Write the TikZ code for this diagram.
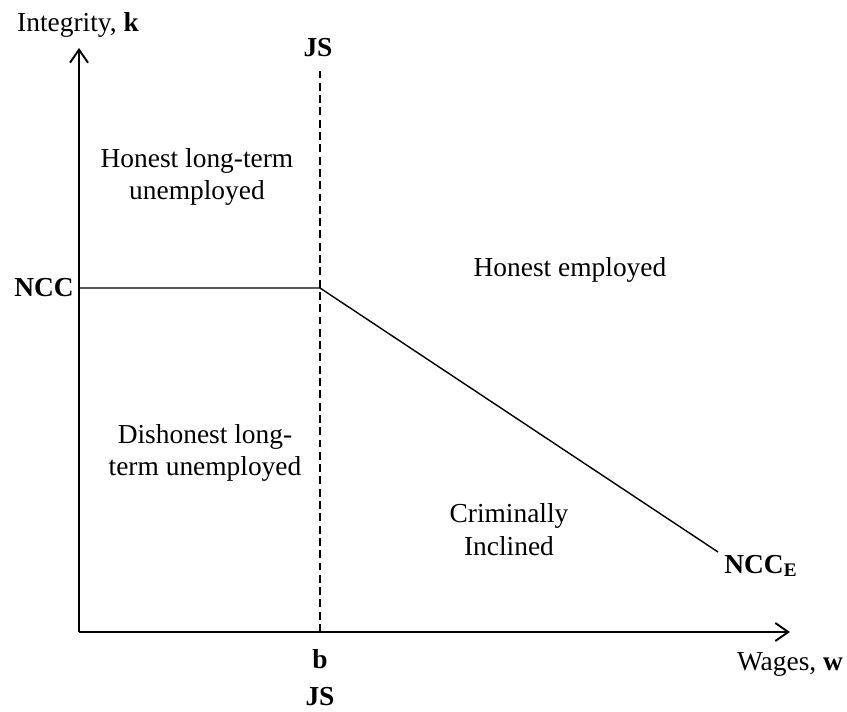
\documentclass[tikz,border=0pt]{standalone}
\usepackage{fontspec}
\setmainfont{Liberation Serif}
\usetikzlibrary{arrows.meta}
\newcommand{\FL}{\fontsize{15.6}{18.7}\selectfont}

\begin{document}
\begin{tikzpicture}
\tikzstyle{texto}=[draw=none,fill=none,black,font=\FL,align=center,inner sep=0pt]
\tikzstyle{axis}=[black,line width=1.1pt,-{Straight Barb[length=2.6mm,width=3.6mm]}]
\tikzstyle{line}=[black,line width=0.8pt]
\tikzstyle{jsline}=[black,line width=0.8pt,dash pattern=on 4.5pt off 2.5pt]

\useasboundingbox (-1.58,-1.58) rectangle (15.36,12.64);

\coordinate (O) at (0,0);
\coordinate (ktop) at (0,11.68);
\coordinate (wend) at (14.22,0);
\coordinate (jstop) at (4.82,11.24);
\coordinate (jsbot) at (4.82,0);
\coordinate (ncc) at (0,6.88);
\coordinate (kink) at (4.82,6.88);
\coordinate (nccE) at (12.78,1.6);

\draw[axis] (O) -- (ktop);
\draw[axis] (O) -- (wend);
\draw[jsline] (jsbot) -- (jstop);
\draw[line] (ncc) -- (kink) -- (nccE);

\node[texto] (klab) at (-0.02,12.14) {Integrity, \textbf{k}};
\node[texto] (jsup) at (4.78,11.68) {\textbf{JS}};
\node[texto,anchor=east] (ncclab) at (-0.1,6.88) {\textbf{NCC}};
\node[texto,anchor=base west] (ncce) at (12.9,1.18) {\textbf{NCC\textsubscript{E}}};
\node[texto] (blab) at (4.82,-0.54) {\textbf{b}};
\node[texto] (jsdown) at (4.82,-1.30) {\textbf{JS}};
\node[texto] (wlab) at (14.22,-0.64) {Wages, \textbf{w}};

\node[texto] (hltu) at (2.36,9.10) {Honest long-term\\unemployed};
\node[texto] (he) at (9.82,7.24) {Honest employed};
\node[texto] (dltu) at (2.52,3.58) {Dishonest long-\\term unemployed};
\node[texto] (ci) at (8.6,2.04) {Criminally\\Inclined};
\end{tikzpicture}
\end{document}
